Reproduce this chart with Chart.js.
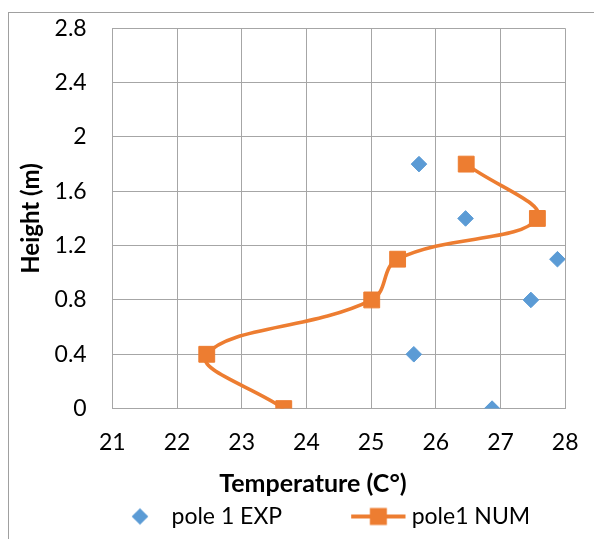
<!DOCTYPE html>
<html>
<head>
<meta charset="utf-8">
<script src="https://cdn.jsdelivr.net/npm/chart.js@4/dist/chart.umd.min.js"></script>
<style>
  html, body { margin: 0; padding: 0; background: #fff; }
  #wrap { width: 594px; height: 539px; position: relative; }
</style>
</head>
<body>
<div id="wrap"><canvas id="c" width="594" height="539"></canvas></div>
<script>
// Heights (m) at which the pole was sampled
const heights = [0, 0.4, 0.8, 1.1, 1.4, 1.8];
// Measured temperatures (°C)
const tempExp = [26.87, 25.66, 27.47, 27.88, 26.46, 25.74];
// Simulated temperatures (°C)
const tempNum = [23.65, 22.46, 25.01, 25.41, 27.57, 26.47];
// Axis ticks
const xTicks = [21, 22, 23, 24, 25, 26, 27, 28];
const yTicks = [0, 0.4, 0.8, 1.2, 1.6, 2, 2.4, 2.8];
const seriesNames = ['pole 1 EXP', 'pole1 NUM'];
const xTitle = 'Temperature (C°)';
const yTitle = 'Height (m)';

const BLUE = '#5B9BD5';
const ORANGE = '#ED7D31';
const GRID = '#a6a6a6';
const FONT = 'Lato, "Open Sans", sans-serif';

const LEG_BOX = 116;   // legend marker slot width
const LEG_FONT = 23;
const LEG_GAP = 2;

// Legend markers drawn as small images
function markExp() {
  const w = LEG_BOX + 12, h = 24;
  const c = document.createElement('canvas');
  c.width = w; c.height = h;
  const g = c.getContext('2d');
  const cx = LEG_BOX - 20 + 6, cy = h / 2, r = 8.3;
  g.fillStyle = BLUE;
  g.beginPath();
  g.moveTo(cx - r, cy); g.lineTo(cx, cy - r); g.lineTo(cx + r, cy); g.lineTo(cx, cy + r);
  g.closePath(); g.fill();
  return c;
}
function markNum() {
  const w = LEG_BOX + 12, h = 24;
  const c = document.createElement('canvas');
  c.width = w; c.height = h;
  const g = c.getContext('2d');
  const cy = h / 2;
  const x0 = LEG_BOX + 11 - 60 + 6, x1 = LEG_BOX + 11 - 5.6 + 6;
  g.strokeStyle = ORANGE; g.lineWidth = 4;
  g.beginPath(); g.moveTo(x0, cy); g.lineTo(x1, cy); g.stroke();
  g.fillStyle = ORANGE;
  const cx = (x0 + x1) / 2, s = 8.5;
  g.fillRect(cx - s, cy - s, 2 * s, 2 * s);
  return c;
}

// Outer frame and bottom axis title
const frame = {
  id: 'frame',
  beforeDraw(chart) {
    const ctx = chart.ctx;
    ctx.save();
    ctx.strokeStyle = '#a0a0a0';
    ctx.lineWidth = 1;
    ctx.strokeRect(8.5, 12.5, 800, 800);
    ctx.restore();
  },
  afterDraw(chart) {
    const ctx = chart.ctx, a = chart.chartArea;
    ctx.save();
    ctx.font = 'bold 25px ' + FONT;
    ctx.fillStyle = '#000';
    ctx.textAlign = 'center';
    ctx.textBaseline = 'alphabetic';
    ctx.fillText(xTitle, a.left + (a.right - a.left) * 0.443, a.bottom + 83.4);
    ctx.restore();
  }
};

function build() {
  const marks = [markExp(), markNum()];
  new Chart(document.getElementById('c'), {
    type: 'scatter',
    data: {
      datasets: [
        {
          label: seriesNames[0],
          data: heights.map((h, i) => ({ x: tempExp[i], y: h })),
          showLine: false,
          pointStyle: 'rectRot',
          pointRadius: 7.8,
          pointBorderWidth: 1,
          backgroundColor: BLUE,
          borderColor: BLUE
        },
        {
          label: seriesNames[1],
          data: heights.map((h, i) => ({ x: tempNum[i], y: h })),
          showLine: true,
          tension: 0.4,
          borderWidth: 3.6,
          borderColor: ORANGE,
          backgroundColor: ORANGE,
          pointStyle: 'rect',
          pointRadius: 11.2,
          pointBorderWidth: 1,
          pointBackgroundColor: ORANGE,
          pointBorderColor: ORANGE
        }
      ]
    },
    options: {
      responsive: false,
      animation: false,
      layout: { padding: { left: 9, right: 28.8, top: 28.3, bottom: 1 } },
      scales: {
        x: {
          type: 'linear',
          min: 21, max: 28,
          afterBuildTicks: s => { s.ticks = xTicks.map(v => ({ value: v })); },
          afterFit: s => { s.height = 94.4; },
          ticks: {
            padding: 0,
            color: '#000',
            font: { family: FONT, size: 23 },
            callback: v => String(v)
          },
          grid: { color: GRID, lineWidth: 1, drawTicks: true, tickLength: 20, tickColor: 'rgba(0,0,0,0)' },
          border: { display: true, color: GRID, width: 1 }
        },
        y: {
          type: 'linear',
          min: 0, max: 2.8,
          afterBuildTicks: s => { s.ticks = yTicks.map(v => ({ value: v })); },
          afterFit: s => { s.width = 103.3; },
          ticks: {
            padding: 0,
            color: '#000',
            font: { family: FONT, size: 23 },
            callback: v => String(+Number(v).toFixed(1))
          },
          grid: { color: GRID, lineWidth: 1, drawTicks: true, tickLength: 25.6, tickColor: 'rgba(0,0,0,0)' },
          border: { display: true, color: GRID, width: 1 },
          title: {
            display: true,
            text: yTitle,
            color: '#000',
            font: { family: FONT, size: 24, weight: 'bold' },
            padding: { top: 7.9, bottom: 0 }
          }
        }
      },
      plugins: {
        tooltip: { enabled: false },
        legend: {
          position: 'bottom',
          labels: {
            usePointStyle: true,
            pointStyleWidth: LEG_BOX,
            boxHeight: LEG_FONT,
            padding: LEG_GAP,
            color: '#000',
            font: { family: FONT, size: LEG_FONT },
            generateLabels(chart) {
              const items = Chart.defaults.plugins.legend.labels.generateLabels(chart);
              items.forEach((it, i) => { it.pointStyle = marks[i]; it.rotation = 0; });
              return items;
            }
          }
        }
      }
    },
    plugins: [frame]
  });
}

Promise.all([
  document.fonts.load('23px Lato'),
  document.fonts.load('bold 25px Lato')
]).catch(() => {}).then(build);
</script>
</body>
</html>
